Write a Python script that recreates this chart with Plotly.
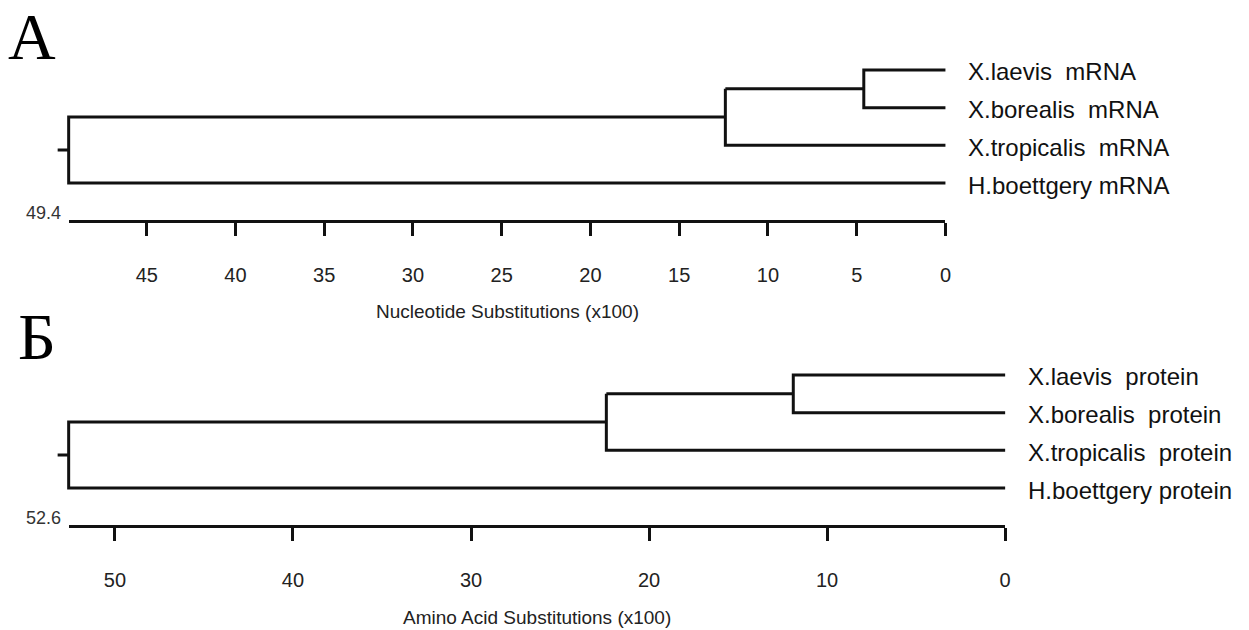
import plotly.graph_objects as go

# ---------------- data ----------------
leaves_A = ["X.laevis\u00a0 mRNA", "X.borealis\u00a0 mRNA", "X.tropicalis\u00a0 mRNA", "H.boettgery mRNA"]
heights_A = [4.6, 12.4, 49.4]          # inner join, outer join, root (x100 substitutions)
ticks_A = [45, 40, 35, 30, 25, 20, 15, 10, 5, 0]
title_A = "Nucleotide Substitutions (x100)"

leaves_B = ["X.laevis\u00a0 protein", "X.borealis\u00a0 protein", "X.tropicalis\u00a0 protein", "H.boettgery protein"]
heights_B = [11.9, 22.4, 52.6]
ticks_B = [50, 40, 30, 20, 10, 0]
title_B = "Amino Acid Substitutions (x100)"

W, H = 1249, 630
INK = "#111111"
FONT = "Liberation Sans, Arial, sans-serif"


def tree_xy(h):
    h1, h2, root = h
    y0, y1, y2, y3 = 0, 1, 2, 3
    m1 = (y0 + y1) / 2
    m2 = (m1 + y2) / 2
    m3 = (m2 + y3) / 2
    stub = root + 0.62
    xs = [0, h1, h1, 0, None,
          h1, h2, None,
          0, h2, h2, None,
          h2, root, root, 0, None,
          root, stub]
    ys = [y0, y0, y1, y1, None,
          m1, m1, None,
          y2, y2, m1, None,
          m2, m2, y3, y3, None,
          m3, m3]
    return xs, ys


def fx(px):
    return px / W


def fy(py):
    return 1 - py / H


fig = go.Figure()

panels = [
    dict(h=heights_A, leaves=leaves_A, ticks=ticks_A, title=title_A, right=950, left=69,
         top=70, axis=221, title_y=311, tree="x", scale="x3", yax="y",
         letter="A", lx=32, ly=36),
    dict(h=heights_B, leaves=leaves_B, ticks=ticks_B, title=title_B, right=1010, left=69,
         top=375, axis=526, title_y=617, tree="x2", scale="x4", yax="y2",
         letter="Б", lx=37, ly=336),
]

layout = dict(
    width=W, height=H, margin=dict(l=0, r=0, t=0, b=0),
    paper_bgcolor="white", plot_bgcolor="rgba(0,0,0,0)",
    showlegend=False, hovermode=False,
)
annotations = []
spacing = 37.67

for i, p in enumerate(panels):
    root = p["h"][2]
    k = (p["right"] - p["left"]) / root
    xs, ys = tree_xy(p["h"])
    fig.add_trace(go.Scatter(x=xs, y=ys, mode="lines", line=dict(color=INK, width=3),
                             xaxis=p["tree"], yaxis=p["yax"], hoverinfo="skip"))
    # invisible trace to bind the scale axis
    fig.add_trace(go.Scatter(x=[root, 0], y=[1.5, 1.5], mode="markers",
                             marker=dict(opacity=0), xaxis=p["scale"], yaxis=p["yax"],
                             hoverinfo="skip"))
    tree_left_val = root + 1.0
    tree_right_val = -0.3
    tname = "xaxis" if p["tree"] == "x" else "xaxis" + p["tree"][1:]
    sname = "xaxis" + p["scale"][1:]
    yname = "yaxis" if p["yax"] == "y" else "yaxis" + p["yax"][1:]
    layout[tname] = dict(
        domain=[fx(p["right"] - tree_left_val * k), fx(p["right"] - tree_right_val * k)],
        range=[tree_left_val, tree_right_val], visible=False, anchor=p["yax"],
    )
    top_px = p["top"] - spacing / 2
    bot_px = p["top"] + 3.5 * spacing
    layout[yname] = dict(domain=[fy(bot_px), fy(top_px)], range=[3.5, -0.5],
                         visible=False, anchor=p["tree"])
    layout[sname] = dict(
        domain=[fx(p["left"]), fx(p["right"])], range=[root, 0],
        anchor="free", position=fy(p["axis"]), side="bottom",
        showline=True, linewidth=3, linecolor=INK,
        ticks="outside", ticklen=13, tickwidth=3, tickcolor=INK,
        tickvals=p["ticks"], ticktext=[str(t) for t in p["ticks"]],
        tickfont=dict(family=FONT, size=20, color="#222222"),
        ticklabelstandoff=22,
        showgrid=False, zeroline=False,
    )
    # leaf labels
    for j, name in enumerate(p["leaves"]):
        annotations.append(dict(
            x=0, y=j, xref=p["tree"], yref=p["yax"], text=name, showarrow=False,
            xanchor="left", yanchor="middle", xshift=21, yshift=-2,
            font=dict(family=FONT, size=24, color=INK),
        ))
    # scale value label
    annotations.append(dict(
        x=fx(63), y=fy(p["axis"] - 8), xref="paper", yref="paper", text=f"{root:.1f}",
        showarrow=False, xanchor="right", yanchor="middle",
        font=dict(family=FONT, size=18, color="#333333"),
    ))
    # axis title
    annotations.append(dict(
        x=fx((p["left"] + p["right"]) / 2), y=fy(p["title_y"]), xref="paper", yref="paper",
        text=p["title"], showarrow=False, xanchor="center", yanchor="middle",
        font=dict(family=FONT, size=19, color="#222222"),
    ))
    # panel letter
    annotations.append(dict(
        x=fx(p["lx"]), y=fy(p["ly"]), xref="paper", yref="paper", text=p["letter"],
        showarrow=False, xanchor="center", yanchor="middle",
        font=dict(family="Liberation Serif, Times New Roman, serif", size=66, color="#000000"),
    ))

layout["annotations"] = annotations
fig.update_layout(**layout)
# remove the default page margin so the 1249x630 figure fills the window exactly
fig.write_html("out.html",
               config={"displayModeBar": False},
               post_script="document.body.style.margin='0';document.body.style.overflow='hidden';")
